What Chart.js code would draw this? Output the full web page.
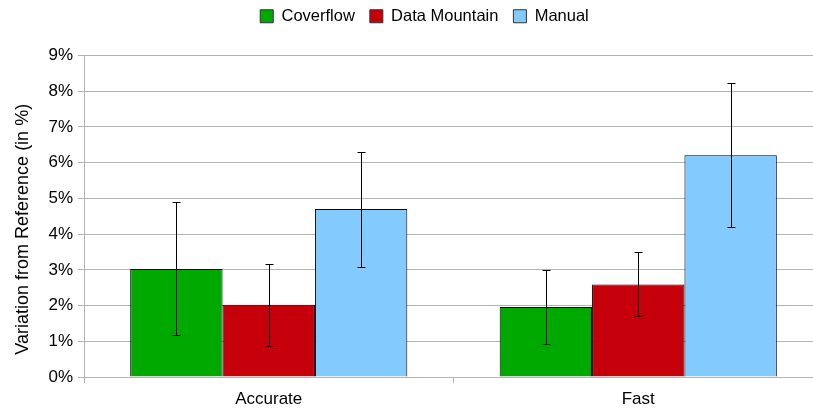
<!DOCTYPE html>
<html>
<head>
<meta charset="utf-8">
<script src="https://cdn.jsdelivr.net/npm/chart.js@4"></script>
<style>
  html, body { margin: 0; padding: 0; background: #fff; }
  .wrap { width: 813px; height: 410px; overflow: hidden; }
</style>
</head>
<body>
<div class="wrap">
  <canvas id="chart" width="848" height="410"></canvas>
</div>
<script>
const categories = ['Accurate', 'Fast'];
const seriesNames = ['Coverflow', 'Data Mountain', 'Manual'];

const coverflow = [3.02, 1.96];
const dataMountain = [2.02, 2.59];
const manual = [4.70, 6.21];

// error bar ranges (low / high)
const coverflowLow = [1.17, 0.91];
const coverflowHigh = [4.89, 3.00];
const dataMountainLow = [0.88, 1.70];
const dataMountainHigh = [3.15, 3.49];
const manualLow = [3.09, 4.19];
const manualHigh = [6.30, 8.24];

const yTicks = [0, 1, 2, 3, 4, 5, 6, 7, 8, 9];
const yTitle = 'Variation from Reference (in %)';

const errorRanges = [
    { low: coverflowLow, high: coverflowHigh },
    { low: dataMountainLow, high: dataMountainHigh },
    { low: manualLow, high: manualHigh }
];

const gridColor = '#b3b3b3';
const fontFamily = '"Liberation Sans", Arial, sans-serif';

// draw error bars on top of the bars
const errorBars = {
    id: 'errorBars',
    afterDatasetsDraw(chart) {
        const ctx = chart.ctx;
        const y = chart.scales.y;
        ctx.save();
        ctx.strokeStyle = '#000';
        ctx.lineWidth = 1;
        chart.data.datasets.forEach((ds, i) => {
            const meta = chart.getDatasetMeta(i);
            meta.data.forEach((bar, j) => {
                const x = Math.round(bar.x) + 0.5;
                const yLow = Math.round(y.getPixelForValue(errorRanges[i].low[j])) + 0.5;
                const yHigh = Math.round(y.getPixelForValue(errorRanges[i].high[j])) + 0.5;
                ctx.beginPath();
                ctx.moveTo(x, yLow);
                ctx.lineTo(x, yHigh);
                ctx.moveTo(x - 4, yLow);
                ctx.lineTo(x + 4, yLow);
                ctx.moveTo(x - 4, yHigh);
                ctx.lineTo(x + 4, yHigh);
                ctx.stroke();
            });
        });
        ctx.restore();
    }
};

// y axis title, sitting a little below the middle of the plot like the original
const axisTitle = {
    id: 'axisTitle',
    afterDraw(chart) {
        const ctx = chart.ctx;
        const area = chart.chartArea;
        ctx.save();
        ctx.translate(23, (area.top + area.bottom) / 2 + 13);
        ctx.rotate(-Math.PI / 2);
        ctx.fillStyle = '#000';
        ctx.font = '18px ' + fontFamily;
        ctx.textAlign = 'center';
        ctx.textBaseline = 'middle';
        ctx.fillText(yTitle, 0, 0);
        ctx.restore();
    }
};

// push plot area further down from legend, and centre legend on the uncropped width
const legendSpacing = {
    id: 'legendSpacing',
    beforeInit(chart) {
        const origFit = chart.legend.fit;
        chart.legend.fit = function() {
            origFit.bind(chart.legend)();
            this.height += 21;
        };
    },
    afterLayout(chart) {
        chart.legend.right += 26;
    }
};

new Chart(document.getElementById('chart'), {
    type: 'bar',
    data: {
        labels: categories,
        datasets: [
            { label: seriesNames[0], data: coverflow, backgroundColor: '#00a900' },
            { label: seriesNames[1], data: dataMountain, backgroundColor: '#c5000b' },
            { label: seriesNames[2], data: manual, backgroundColor: '#83caff' }
        ]
    },
    options: {
        responsive: false,
        animation: false,
        devicePixelRatio: 1,
        layout: {
            padding: { left: 0, right: 25, top: -7, bottom: 0 }
        },
        datasets: {
            bar: {
                borderColor: '#000',
                borderWidth: 1,
                barPercentage: 1.0,
                categoryPercentage: 0.75
            }
        },
        plugins: {
            legend: {
                position: 'top',
                labels: {
                    boxWidth: 13,
                    boxHeight: 13,
                    padding: 15,
                    color: '#000',
                    font: { family: fontFamily, size: 16.5 },
                    generateLabels(chart) {
                        return chart.data.datasets.map((ds, i) => ({
                            text: ds.label,
                            fillStyle: ds.backgroundColor,
                            strokeStyle: '#333',
                            lineWidth: 1,
                            datasetIndex: i
                        }));
                    }
                }
            },
            tooltip: { enabled: false }
        },
        scales: {
            x: {
                grid: {
                    offset: true,
                    drawOnChartArea: false,
                    drawTicks: true,
                    tickLength: 6,
                    color: gridColor
                },
                border: { color: gridColor },
                ticks: {
                    color: '#000',
                    padding: 6,
                    font: { family: fontFamily, size: 17 }
                },
                afterFit(scale) { scale.height = 33; }
            },
            y: {
                min: 0,
                max: 9,
                afterBuildTicks(scale) {
                    scale.ticks = yTicks.map(v => ({ value: v }));
                },
                grid: {
                    color: gridColor,
                    tickLength: 6
                },
                border: { color: gridColor },
                ticks: {
                    color: '#000',
                    padding: 5,
                    font: { family: fontFamily, size: 17 },
                    callback: v => v + '%'
                },
                afterFit(scale) { scale.width = 84; }
            }
        }
    },
    plugins: [errorBars, axisTitle, legendSpacing]
});
</script>
</body>
</html>
